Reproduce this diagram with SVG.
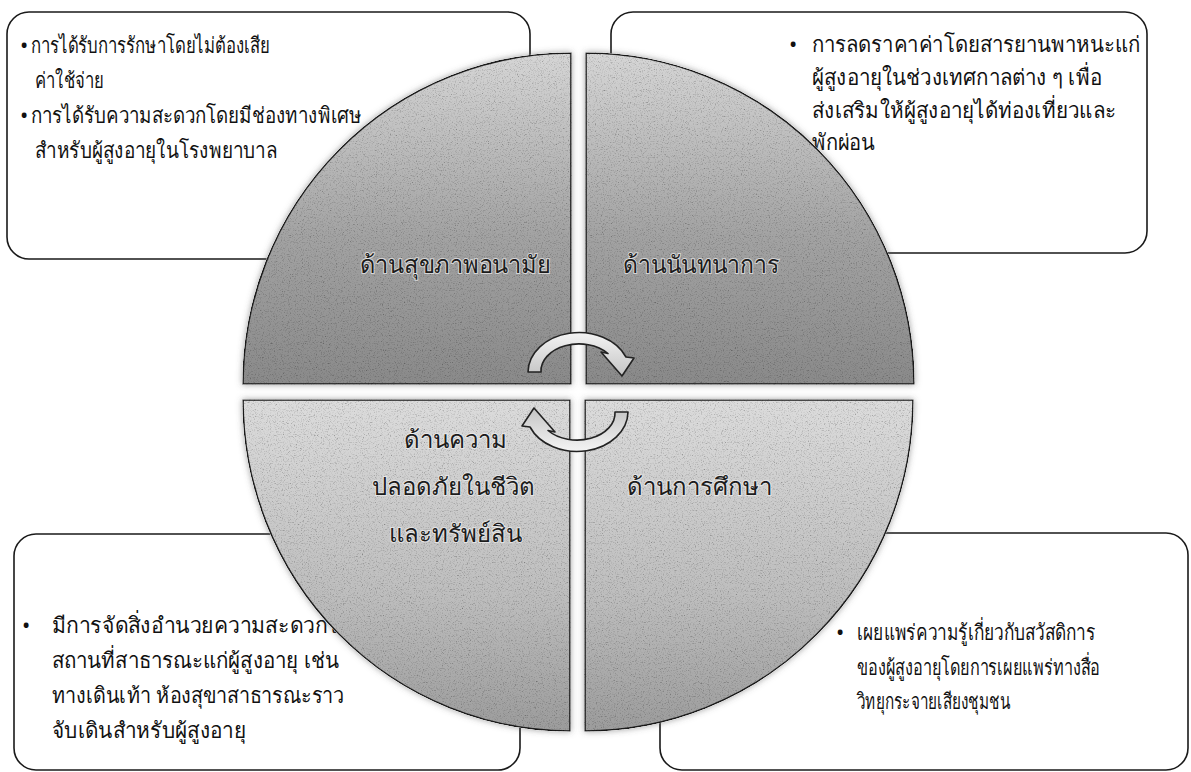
<svg xmlns="http://www.w3.org/2000/svg" width="1191" height="772" viewBox="0 0 1191 772">
<style>
.box{fill:#fff;stroke:#1a1a1a;stroke-width:1.6}
.t{font-family:'Noto Sans','DejaVu Sans',sans-serif;font-size:22px;fill:#111}
.q{stroke:#1a1a1a;stroke-width:1.6}
.lab{font-family:'Noto Sans','DejaVu Sans',sans-serif;font-size:24px;fill:#1c1c1c;stroke:#f2f2f2;stroke-width:2;paint-order:stroke;text-anchor:middle;stroke-opacity:0.7}
.arr{fill:url(#ag);stroke:#222;stroke-width:1.6;stroke-linejoin:round}
</style>
<defs>
<linearGradient id="gu" x1="0" y1="53" x2="0" y2="384" gradientUnits="userSpaceOnUse">
<stop offset="0" stop-color="#d6d6d6"/><stop offset="0.55" stop-color="#a3a3a3"/><stop offset="1" stop-color="#8a8a8a"/>
</linearGradient>
<linearGradient id="gl" x1="0" y1="400" x2="0" y2="731" gradientUnits="userSpaceOnUse">
<stop offset="0" stop-color="#dcdcdc"/><stop offset="0.6" stop-color="#bdbdbd"/><stop offset="1" stop-color="#9c9c9c"/>
</linearGradient>
<linearGradient id="ag" x1="0" y1="0" x2="0" y2="1">
<stop offset="0" stop-color="#f4f4f4"/><stop offset="1" stop-color="#c4c4c4"/>
</linearGradient>
<filter id="grain" x="-5%" y="-5%" width="110%" height="110%">
<feGaussianBlur in="SourceAlpha" stdDeviation="3" result="b"/>
<feFlood flood-color="#555" flood-opacity="0.55"/>
<feComposite in2="b" operator="in" result="sh"/>
<feTurbulence type="fractalNoise" baseFrequency="0.85" numOctaves="2" seed="4" result="n"/>
<feColorMatrix in="n" type="matrix" values="0.7 0.7 0.7 0 -0.05  0.7 0.7 0.7 0 -0.05  0.7 0.7 0.7 0 -0.05  0 0 0 0 1" result="g"/>
<feBlend in="SourceGraphic" in2="g" mode="multiply" result="m"/>
<feComposite in="m" in2="SourceGraphic" operator="in" result="tx"/>
<feMerge><feMergeNode in="sh"/><feMergeNode in="tx"/></feMerge>
</filter>
</defs>
<rect width="1191" height="772" fill="#fff"/>

<g id="box-health">
<rect class="box" x="7" y="12" width="523" height="247" rx="22"/>
<text class="t" x="20" y="53">•</text>
<text class="t" x="31" y="53" textLength="239" lengthAdjust="spacingAndGlyphs">การได้รับการรักษาโดยไม่ต้องเสีย</text>
<text class="t" x="35" y="88" textLength="69" lengthAdjust="spacingAndGlyphs">ค่าใช้จ่าย</text>
<text class="t" x="20" y="123">•</text>
<text class="t" x="31" y="123" textLength="331" lengthAdjust="spacingAndGlyphs">การได้รับความสะดวกโดยมีช่องทางพิเศษ</text>
<text class="t" x="35" y="158" textLength="242" lengthAdjust="spacingAndGlyphs">สำหรับผู้สูงอายุในโรงพยาบาล</text>
</g>

<g id="box-recreation">
<rect class="box" x="611" y="12" width="536" height="241" rx="22"/>
<text class="t" x="789" y="52">•</text>
<text class="t" x="812" y="52" textLength="328" lengthAdjust="spacingAndGlyphs">การลดราคาค่าโดยสารยานพาหนะแก่</text>
<text class="t" x="812" y="85" textLength="290" lengthAdjust="spacingAndGlyphs">ผู้สูงอายุในช่วงเทศกาลต่าง ๆ เพื่อ</text>
<text class="t" x="812" y="118" textLength="304" lengthAdjust="spacingAndGlyphs">ส่งเสริมให้ผู้สูงอายุได้ท่องเที่ยวและ</text>
<text class="t" x="812" y="150" textLength="63" lengthAdjust="spacingAndGlyphs">พักผ่อน</text>
</g>

<g id="box-safety">
<rect class="box" x="14" y="534" width="506" height="236" rx="22"/>
<text class="t" x="22" y="633">•</text>
<text class="t" x="52" y="633" textLength="300" lengthAdjust="spacingAndGlyphs">มีการจัดสิ่งอำนวยความสะดวกใน</text>
<text class="t" x="52" y="668" textLength="287" lengthAdjust="spacingAndGlyphs">สถานที่สาธารณะแก่ผู้สูงอายุ เช่น</text>
<text class="t" x="52" y="703" textLength="292" lengthAdjust="spacingAndGlyphs">ทางเดินเท้า ห้องสุขาสาธารณะราว</text>
<text class="t" x="52" y="738" textLength="194" lengthAdjust="spacingAndGlyphs">จับเดินสำหรับผู้สูงอายุ</text>
</g>

<g id="box-education">
<rect class="box" x="660" y="533" width="528" height="237" rx="22"/>
<text class="t" x="836" y="640">•</text>
<text class="t" x="857" y="640" textLength="238" lengthAdjust="spacingAndGlyphs">เผยแพร่ความรู้เกี่ยวกับสวัสดิการ</text>
<text class="t" x="857" y="675" textLength="243" lengthAdjust="spacingAndGlyphs">ของผู้สูงอายุโดยการเผยแพร่ทางสื่อ</text>
<text class="t" x="857" y="709" textLength="153" lengthAdjust="spacingAndGlyphs">วิทยุกระจายเสียงชุมชน</text>
</g>

<g id="quad-health">
<path class="q" fill="url(#gu)" filter="url(#grain)" d="M571 384 L243 384 A328 331 0 0 1 571 53 Z"/>
<text class="lab" x="455" y="273" textLength="191" lengthAdjust="spacingAndGlyphs">ด้านสุขภาพอนามัย</text>
</g>
<g id="quad-recreation">
<path class="q" fill="url(#gu)" filter="url(#grain)" d="M586 384 L586 53 A328 331 0 0 1 914 384 Z"/>
<text class="lab" x="701" y="273" textLength="156" lengthAdjust="spacingAndGlyphs">ด้านนันทนาการ</text>
</g>
<g id="quad-safety">
<path class="q" fill="url(#gl)" filter="url(#grain)" d="M570 400 L570 731 A327 331 0 0 1 243 400 Z"/>
<text class="lab" x="455" y="448">ด้านความ</text>
<text class="lab" x="453" y="495">ปลอดภัยในชีวิต</text>
<text class="lab" x="455" y="542">และทรัพย์สิน</text>
</g>
<g id="quad-education">
<path class="q" fill="url(#gl)" filter="url(#grain)" d="M585 400 L913 400 A328 331 0 0 1 585 731 Z"/>
<text class="lab" x="699" y="495">ด้านการศึกษา</text>
</g>

<g id="connectors">
<path class="arr" d="M528 372 A51 40 0 0 1 626 357 L634 358 L622 376 L601 352 L608 353.5 A38 27 0 0 0 541 372 Z"/>
<path class="arr" transform="rotate(180 578 392)" d="M528 372 A51 40 0 0 1 626 357 L634 358 L622 376 L601 352 L608 353.5 A38 27 0 0 0 541 372 Z"/>
</g>
</svg>
